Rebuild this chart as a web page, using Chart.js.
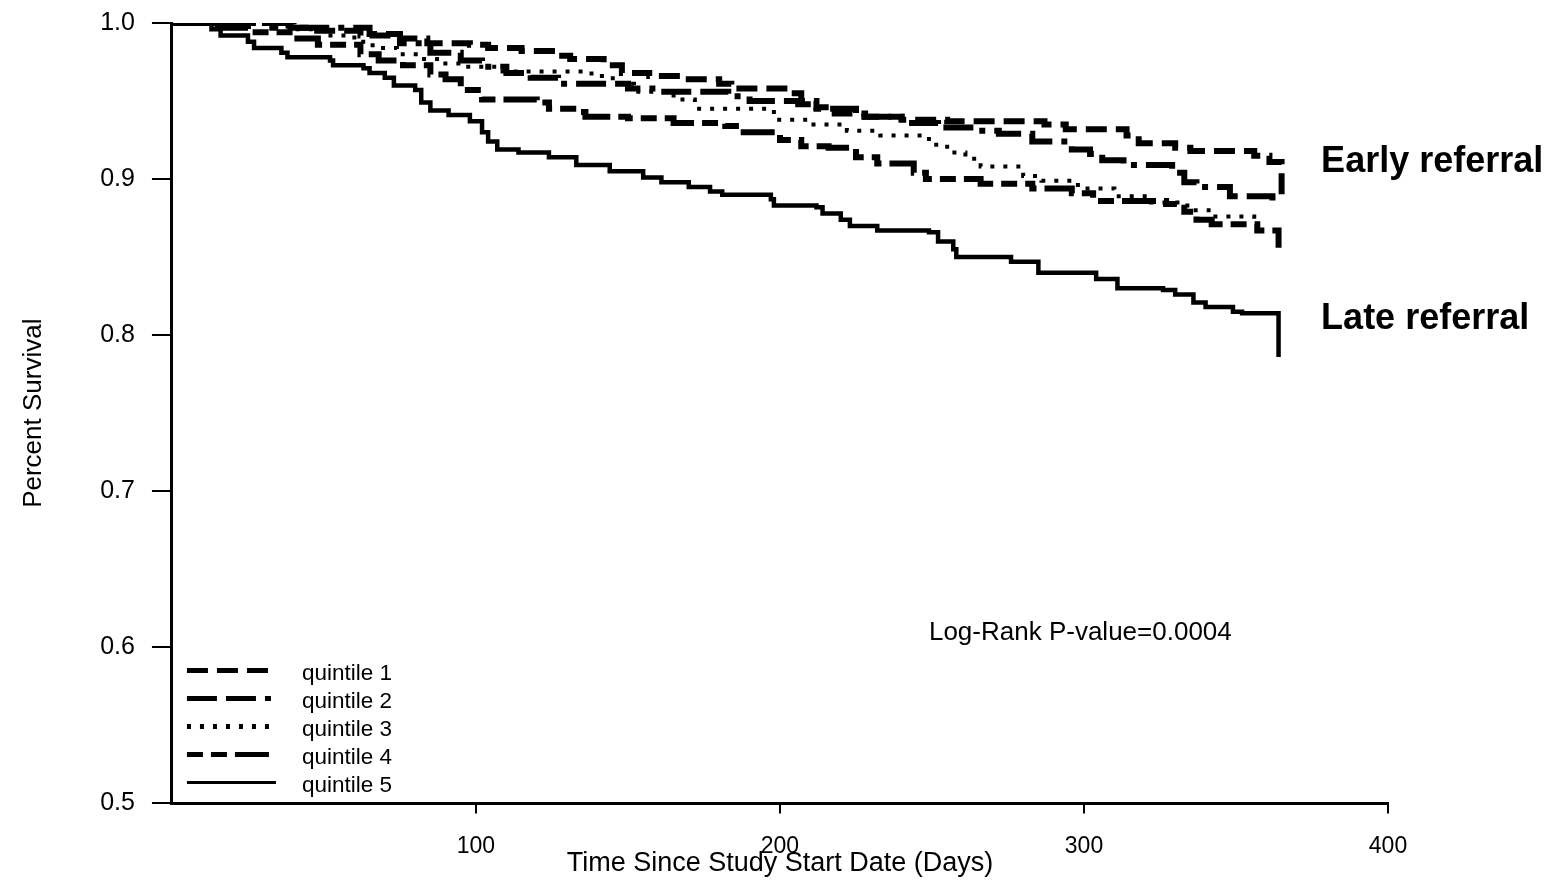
<!DOCTYPE html>
<html>
<head>
<meta charset="utf-8">
<script src="https://cdn.jsdelivr.net/npm/chart.js@4.4.1/dist/chart.umd.min.js"></script>
<style>
  html, body { margin: 0; padding: 0; background: #fff; }
  #wrap { width: 1564px; height: 883px; }
</style>
</head>
<body>
<div id="wrap"><canvas id="kmchart" width="1564" height="883"></canvas></div>
<script>
// Kaplan-Meier step points (day of event, survival after the event).
const q1Days = [0, 33, 45, 62, 75, 84, 98, 104, 115, 125, 131, 142, 148, 157, 168, 180, 184, 203, 207, 212, 218, 228, 240, 255, 287, 294, 314, 318, 330, 335, 356, 361, 365];
const q1Surv = [1.0, 0.997, 0.995, 0.992, 0.990, 0.987, 0.986, 0.984, 0.982, 0.979, 0.977, 0.973, 0.968, 0.966, 0.964, 0.961, 0.958, 0.955, 0.950, 0.946, 0.942, 0.940, 0.938, 0.937, 0.935, 0.932, 0.928, 0.923, 0.920, 0.918, 0.915, 0.911, 0.888];

const q2Days = [0, 40, 65, 75, 85, 95, 102, 110, 118, 127, 150, 160, 183, 190, 206, 212, 225, 240, 252, 265, 272, 283, 296, 302, 306, 313, 329, 333, 337, 348, 362];
const q2Surv = [1.0, 0.997, 0.993, 0.987, 0.981, 0.976, 0.972, 0.968, 0.965, 0.961, 0.958, 0.956, 0.953, 0.950, 0.948, 0.945, 0.940, 0.936, 0.933, 0.931, 0.929, 0.924, 0.919, 0.916, 0.912, 0.909, 0.904, 0.898, 0.895, 0.889, 0.882];

const q3Days = [0, 38, 50, 60, 66, 74, 81, 88, 96, 106, 138, 145, 152, 165, 172, 198, 210, 222, 233, 249, 255, 261, 266, 280, 286, 298, 310, 322, 334, 341, 356];
const q3Surv = [1.0, 0.996, 0.992, 0.988, 0.984, 0.980, 0.977, 0.974, 0.972, 0.969, 0.966, 0.961, 0.956, 0.951, 0.945, 0.938, 0.935, 0.931, 0.928, 0.922, 0.917, 0.913, 0.908, 0.902, 0.899, 0.894, 0.889, 0.885, 0.880, 0.876, 0.872];

const q4Days = [0, 15, 25, 40, 48, 62, 68, 76, 85, 90, 95, 102, 120, 124, 132, 136, 150, 165, 182, 187, 200, 207, 216, 225, 232, 244, 248, 266, 283, 296, 303, 327, 333, 337, 342, 357, 364];
const q4Surv = [1.0, 0.997, 0.994, 0.990, 0.986, 0.980, 0.976, 0.973, 0.967, 0.964, 0.957, 0.951, 0.949, 0.945, 0.943, 0.940, 0.939, 0.936, 0.934, 0.930, 0.925, 0.921, 0.920, 0.914, 0.910, 0.904, 0.900, 0.897, 0.894, 0.891, 0.886, 0.884, 0.879, 0.874, 0.871, 0.867, 0.856];

const q5Days = [0, 13, 16, 25, 27, 36, 38, 52, 53, 63, 65, 70, 73, 80, 82, 85, 91, 98, 102, 104, 107, 114, 124, 133, 144, 155, 161, 170, 177, 181, 197, 198, 212, 214, 220, 223, 232, 249, 252, 257, 258, 276, 285, 304, 311, 326, 330, 336, 340, 349, 352, 364];
const q5Surv = [1.0, 0.996, 0.992, 0.988, 0.984, 0.981, 0.978, 0.976, 0.973, 0.971, 0.968, 0.965, 0.960, 0.957, 0.949, 0.944, 0.941, 0.937, 0.930, 0.924, 0.919, 0.917, 0.914, 0.909, 0.905, 0.901, 0.898, 0.895, 0.892, 0.890, 0.887, 0.883, 0.882, 0.878, 0.874, 0.870, 0.867, 0.866, 0.860, 0.855, 0.850, 0.847, 0.840, 0.836, 0.830, 0.829, 0.826, 0.821, 0.818, 0.815, 0.814, 0.786];

const seriesNames = ['quintile 1', 'quintile 2', 'quintile 3', 'quintile 4', 'quintile 5'];
const xTicks = [100, 200, 300, 400];
const yTicks = [0.5, 0.6, 0.7, 0.8, 0.9, 1.0];
const xTitle = 'Time Since Study Start Date (Days)';

const FONT = '"Liberation Sans", Arial, sans-serif';

function toPoints(days, surv) {
    return days.map((d, i) => ({ x: d, y: surv[i] }));
}

// line styles for each quintile, as in the printed legend
const styles = [
    { dash: [21, 9], width: 6 },
    { dash: [30, 9, 30, 9, 6, 9], width: 6 },
    { dash: [4, 9], width: 4 },
    { dash: [16, 8, 16, 8, 34, 8], width: 6 },
    { dash: [], width: 4.5 }
];

const allDays = [q1Days, q2Days, q3Days, q4Days, q5Days];
const allSurv = [q1Surv, q2Surv, q3Surv, q4Surv, q5Surv];

const datasets = seriesNames.map((name, i) => ({
    label: name,
    data: toPoints(allDays[i], allSurv[i]),
    borderColor: '#000',
    borderWidth: styles[i].width,
    borderDash: styles[i].dash,
    borderCapStyle: 'butt',
    stepped: 'before',
    pointRadius: 0,
    fill: false
}));

// text placed on the plot
const logRankText = 'Log-Rank P-value=0.0004';
const logRankAt = [249, 0.609];
const groupLabels = [
    { text: 'Early referral', at: [378, 0.911] },
    { text: 'Late referral', at: [378, 0.810] }
];

const overlayPlugin = {
    id: 'overlay',
    afterDraw: function(chart) {
        let ctx = chart.ctx;
        let area = chart.chartArea;
        let xs = chart.scales.x, ys = chart.scales.y;
        ctx.save();
        ctx.fillStyle = '#000';
        ctx.strokeStyle = '#000';

        // legend inside the plot, bottom left
        ctx.font = '22.5px ' + FONT;
        ctx.textBaseline = 'middle';
        ctx.textAlign = 'left';
        chart.data.datasets.forEach((ds, i) => {
            let yy = area.bottom - 133 + i * 28;
            ctx.lineWidth = i === 4 ? 3 : 5;
            ctx.setLineDash(ds.borderDash);
            ctx.beginPath();
            ctx.moveTo(area.left + 15, yy);
            ctx.lineTo(area.left + 104, yy);
            ctx.stroke();
            ctx.setLineDash([]);
            ctx.fillText(ds.label, area.left + 130, yy + 3);
        });

        ctx.font = '26px ' + FONT;
        ctx.fillText(logRankText, xs.getPixelForValue(logRankAt[0]), ys.getPixelForValue(logRankAt[1]));

        ctx.font = 'bold 36px ' + FONT;
        groupLabels.forEach(g => {
            ctx.fillText(g.text, xs.getPixelForValue(g.at[0]), ys.getPixelForValue(g.at[1]));
        });

        // x axis title, set close under the tick labels as in the original
        ctx.font = '27px ' + FONT;
        ctx.textAlign = 'center';
        ctx.fillText(xTitle, (area.left + area.right) / 2, 864);
        ctx.restore();
    }
};

new Chart(document.getElementById('kmchart'), {
    type: 'line',
    data: { datasets: datasets },
    options: {
        responsive: false,
        animation: false,
        events: [],
        layout: { padding: { left: 18, right: 176, top: 23, bottom: 4 } },
        plugins: { legend: { display: false }, tooltip: { enabled: false } },
        scales: {
            x: {
                type: 'linear',
                min: 0,
                max: 400,
                afterBuildTicks: function(scale) {
                    scale.ticks = xTicks.map(v => ({ value: v }));
                },
                border: { display: true, color: '#000', width: 3 },
                grid: { drawOnChartArea: false, drawTicks: true, tickLength: 10, color: '#000', lineWidth: 2 },
                ticks: { color: '#000', font: { family: FONT, size: 23 }, padding: 19, maxRotation: 0 },
                title: { display: false }
            },
            y: {
                type: 'linear',
                min: 0.5,
                max: 1.0,
                afterBuildTicks: function(scale) {
                    scale.ticks = yTicks.map(v => ({ value: v }));
                },
                border: { display: true, color: '#000', width: 3 },
                grid: { drawOnChartArea: false, drawTicks: true, tickLength: 20, color: '#000', lineWidth: 2 },
                ticks: {
                    color: '#000',
                    font: { family: FONT, size: 25, lineHeight: 0.48 },
                    padding: 17,
                    callback: function(value) { return Number(value).toFixed(1); }
                },
                title: {
                    display: true,
                    text: 'Percent Survival',
                    color: '#000',
                    font: { family: FONT, size: 26 },
                    padding: { top: 0, bottom: 34 }
                }
            }
        }
    },
    plugins: [overlayPlugin]
});
</script>
</body>
</html>
